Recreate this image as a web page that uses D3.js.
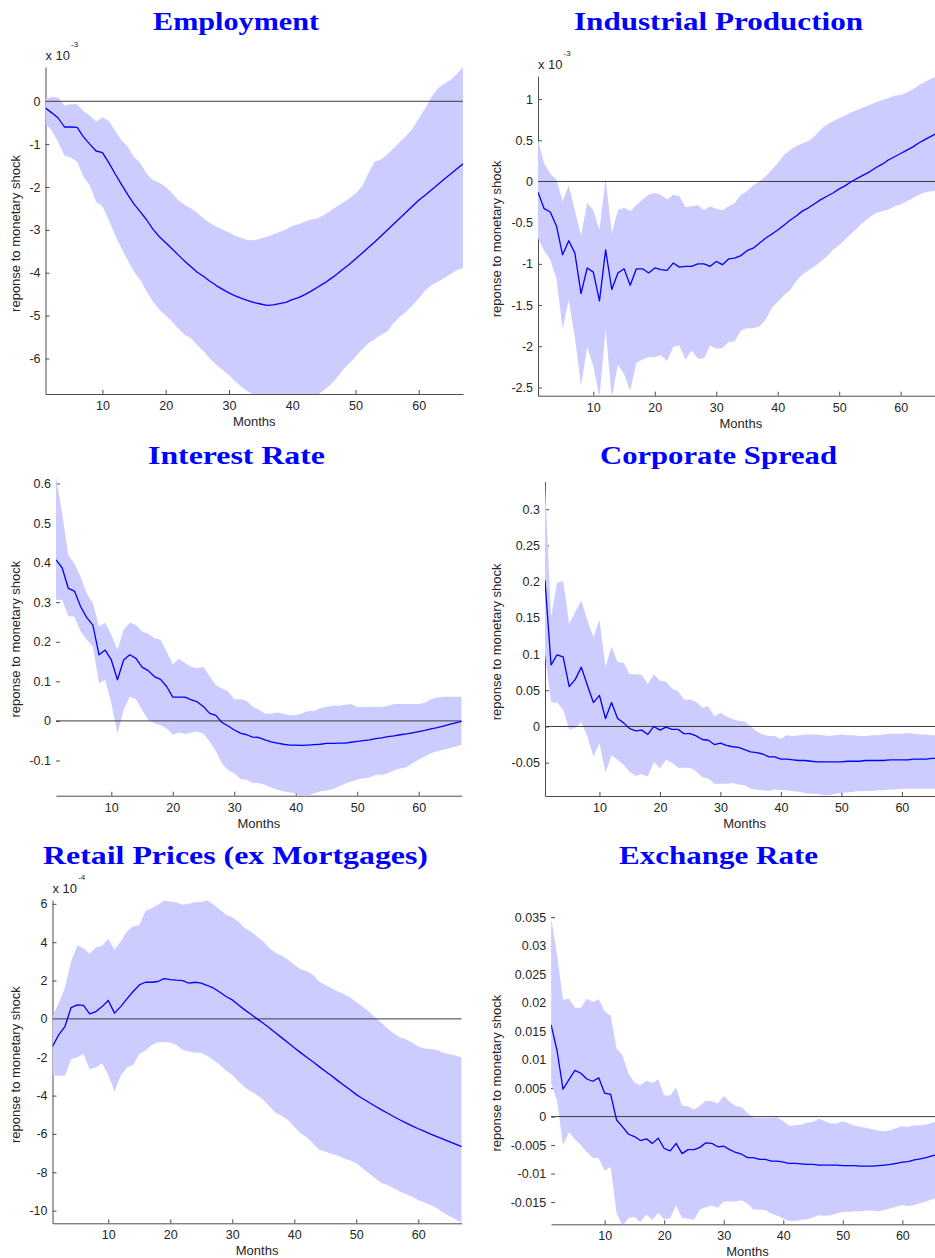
<!DOCTYPE html>
<html>
<head>
<meta charset="utf-8">
<script src="https://cdn.jsdelivr.net/npm/d3@7"></script>
<style>
    body { margin: 0; background: #ffffff; }
    svg { display: block; }
</style>
</head>
<body>
<svg id="Chart" width="935" height="1258"></svg>
<script>
    // Horizon of the impulse responses, in months
    let months = d3.range(1, 68);
    let monthTicks = [10, 20, 30, 40, 50, 60];

    // Employment, in units of 1e-3
    let employmentMid = [-0.16, -0.27, -0.39, -0.6, -0.6, -0.61, -0.83, -1.0, -1.16, -1.2,
        -1.43, -1.69, -1.94, -2.18, -2.4, -2.58, -2.77, -2.99, -3.16, -3.3,
        -3.44, -3.59, -3.73, -3.86, -3.99, -4.09, -4.2, -4.3, -4.39, -4.47,
        -4.54, -4.6, -4.65, -4.7, -4.73, -4.76, -4.75, -4.72, -4.69, -4.63,
        -4.58, -4.51, -4.43, -4.34, -4.25, -4.15, -4.04, -3.92, -3.81, -3.68,
        -3.55, -3.42, -3.29, -3.15, -3.01, -2.87, -2.73, -2.59, -2.45, -2.31,
        -2.19, -2.07, -1.95, -1.82, -1.7, -1.58, -1.46]
    let employmentHigh = [0.06, 0.1, 0.09, -0.1, -0.07, -0.07, -0.23, -0.33, -0.48, -0.37,
        -0.46, -0.68, -0.91, -1.06, -1.3, -1.45, -1.69, -1.84, -1.9, -2.0,
        -2.14, -2.31, -2.42, -2.5, -2.6, -2.74, -2.84, -2.93, -2.99, -3.06,
        -3.14, -3.19, -3.24, -3.24, -3.2, -3.16, -3.11, -3.05, -2.99, -2.91,
        -2.87, -2.81, -2.76, -2.73, -2.66, -2.56, -2.46, -2.37, -2.27, -2.15,
        -2.0, -1.69, -1.41, -1.36, -1.24, -1.1, -0.95, -0.81, -0.64, -0.4,
        -0.17, 0.1, 0.3, 0.41, 0.49, 0.63, 0.8]
    let employmentLow = [-0.52, -0.69, -0.95, -1.27, -1.31, -1.41, -1.76, -1.96, -2.35, -2.45,
        -2.77, -3.12, -3.43, -3.71, -3.98, -4.17, -4.44, -4.68, -4.86, -4.99,
        -5.14, -5.3, -5.45, -5.53, -5.69, -5.84, -6.0, -6.15, -6.27, -6.39,
        -6.54, -6.66, -6.78, -6.85, -6.88, -6.9, -6.92, -6.92, -6.9, -6.88,
        -6.87, -6.86, -6.86, -6.85, -6.74, -6.62, -6.46, -6.27, -6.12, -5.96,
        -5.8, -5.65, -5.56, -5.45, -5.38, -5.18, -5.03, -4.91, -4.76, -4.6,
        -4.42, -4.29, -4.21, -4.13, -4.03, -3.94, -3.89]
    let employmentTicks = [-6, -5, -4, -3, -2, -1, 0]

    // Industrial production, in units of 1e-3
    let industrialMid = [-0.13, -0.33, -0.37, -0.54, -0.89, -0.72, -0.87, -1.36, -1.05, -1.1,
        -1.45, -0.83, -1.31, -1.11, -1.06, -1.26, -1.06, -1.06, -1.11, -1.05,
        -1.07, -1.08, -0.99, -1.04, -1.03, -1.03, -1.0, -1.0, -1.03, -0.97,
        -1.01, -0.94, -0.93, -0.9, -0.84, -0.81, -0.75, -0.69, -0.64, -0.59,
        -0.53, -0.47, -0.42, -0.36, -0.32, -0.27, -0.22, -0.18, -0.14, -0.09,
        -0.05, 0.0, 0.04, 0.08, 0.12, 0.17, 0.21, 0.26, 0.3, 0.34,
        0.38, 0.42, 0.47, 0.51, 0.55, 0.59, 0.62]
    let industrialHigh = [0.51, 0.22, 0.09, 0.02, -0.24, -0.05, -0.35, -0.66, -0.26, -0.35,
        -0.59, 0.04, -0.63, -0.35, -0.32, -0.36, -0.29, -0.22, -0.16, -0.14,
        -0.16, -0.22, -0.16, -0.18, -0.31, -0.3, -0.29, -0.35, -0.3, -0.33,
        -0.35, -0.3, -0.26, -0.16, -0.12, -0.05, 0.0, 0.06, 0.14, 0.22,
        0.32, 0.38, 0.43, 0.46, 0.49, 0.55, 0.63, 0.69, 0.73, 0.77,
        0.8, 0.84, 0.87, 0.9, 0.93, 0.96, 0.99, 1.01, 1.04, 1.05,
        1.08, 1.12, 1.17, 1.21, 1.25, 1.28, 1.31]
    let industrialLow = [-0.69, -0.84, -0.95, -1.18, -1.79, -1.44, -1.89, -2.48, -2.01, -2.24,
        -2.62, -1.79, -2.62, -2.22, -2.34, -2.54, -2.2, -2.16, -2.13, -2.13,
        -2.11, -2.18, -2.01, -1.99, -2.16, -2.05, -2.15, -2.15, -1.99, -2.03,
        -2.02, -1.95, -1.94, -1.81, -1.78, -1.78, -1.76, -1.68, -1.54, -1.46,
        -1.38, -1.32, -1.21, -1.13, -1.08, -1.03, -0.97, -0.91, -0.83, -0.77,
        -0.7, -0.63, -0.56, -0.49, -0.43, -0.38, -0.36, -0.34, -0.3, -0.28,
        -0.24, -0.2, -0.16, -0.13, -0.12, -0.11, -0.1]
    let industrialTicks = [-2.5, -2, -1.5, -1, -0.5, 0, 0.5, 1]

    // Interest rate
    let interestMid = [0.407, 0.387, 0.335, 0.328, 0.289, 0.261, 0.242, 0.167, 0.179, 0.154,
        0.104, 0.154, 0.167, 0.158, 0.136, 0.127, 0.112, 0.105, 0.087, 0.06,
        0.06, 0.06, 0.053, 0.048, 0.036, 0.019, 0.014, -0.004, -0.013, -0.023,
        -0.031, -0.035, -0.041, -0.042, -0.048, -0.053, -0.056, -0.059, -0.061, -0.061,
        -0.062, -0.061, -0.06, -0.059, -0.057, -0.057, -0.056, -0.056, -0.054, -0.052,
        -0.05, -0.048, -0.045, -0.043, -0.04, -0.038, -0.035, -0.033, -0.03, -0.027,
        -0.024, -0.02, -0.017, -0.013, -0.009, -0.005, -0.001]
    let interestHigh = [0.617, 0.524, 0.419, 0.398, 0.364, 0.322, 0.297, 0.238, 0.248, 0.217,
        0.179, 0.23, 0.248, 0.242, 0.226, 0.22, 0.209, 0.205, 0.175, 0.143,
        0.157, 0.146, 0.137, 0.133, 0.137, 0.112, 0.091, 0.082, 0.074, 0.055,
        0.055, 0.051, 0.036, 0.028, 0.019, 0.018, 0.021, 0.018, 0.014, 0.014,
        0.019, 0.025, 0.025, 0.032, 0.036, 0.038, 0.038, 0.04, 0.043, 0.035,
        0.035, 0.036, 0.036, 0.035, 0.038, 0.043, 0.043, 0.043, 0.043, 0.043,
        0.046, 0.055, 0.059, 0.061, 0.061, 0.061, 0.061]
    let interestLow = [0.306, 0.306, 0.265, 0.263, 0.226, 0.205, 0.188, 0.095, 0.104, 0.045,
        -0.033, 0.028, 0.061, 0.055, 0.028, 0.003, -0.006, -0.011, -0.019, -0.035,
        -0.029, -0.033, -0.029, -0.027, -0.033, -0.052, -0.077, -0.107, -0.124, -0.132,
        -0.147, -0.149, -0.157, -0.157, -0.162, -0.168, -0.174, -0.178, -0.181, -0.183,
        -0.19, -0.189, -0.183, -0.178, -0.176, -0.173, -0.166, -0.159, -0.153, -0.149,
        -0.145, -0.143, -0.136, -0.136, -0.132, -0.125, -0.12, -0.117, -0.107, -0.098,
        -0.09, -0.082, -0.077, -0.073, -0.069, -0.065, -0.061]
    let interestTicks = [-0.1, 0, 0.1, 0.2, 0.3, 0.4, 0.5, 0.6]

    // Corporate spread
    let corporateMid = [0.202, 0.085, 0.099, 0.096, 0.055, 0.065, 0.082, 0.057, 0.033, 0.043,
        0.011, 0.033, 0.011, 0.005, -0.003, -0.006, -0.005, -0.011, 0.0, -0.005,
        -0.001, -0.004, -0.004, -0.01, -0.01, -0.013, -0.018, -0.019, -0.025, -0.023,
        -0.026, -0.028, -0.029, -0.032, -0.035, -0.036, -0.038, -0.042, -0.042, -0.045,
        -0.045, -0.046, -0.047, -0.047, -0.048, -0.049, -0.049, -0.049, -0.049, -0.049,
        -0.048, -0.048, -0.048, -0.047, -0.047, -0.047, -0.047, -0.046, -0.046, -0.046,
        -0.046, -0.045, -0.045, -0.045, -0.044, -0.044, -0.044]
    let corporateHigh = [0.335, 0.151, 0.198, 0.201, 0.142, 0.158, 0.174, 0.147, 0.124, 0.147,
        0.082, 0.11, 0.089, 0.088, 0.072, 0.072, 0.071, 0.059, 0.072, 0.063,
        0.062, 0.052, 0.049, 0.037, 0.037, 0.034, 0.026, 0.028, 0.014, 0.019,
        0.014, 0.01, 0.008, 0.007, 0.0, -0.007, -0.011, -0.013, -0.013, -0.017,
        -0.012, -0.013, -0.012, -0.011, -0.011, -0.011, -0.012, -0.013, -0.012, -0.011,
        -0.012, -0.012, -0.013, -0.013, -0.012, -0.012, -0.011, -0.01, -0.01, -0.01,
        -0.009, -0.01, -0.011, -0.011, -0.012, -0.012, -0.012]
    let corporateLow = [0.1, 0.033, 0.033, 0.023, -0.004, -0.002, 0.006, -0.014, -0.041, -0.023,
        -0.064, -0.04, -0.046, -0.053, -0.063, -0.068, -0.066, -0.069, -0.049, -0.058,
        -0.046, -0.05, -0.057, -0.057, -0.057, -0.062, -0.07, -0.072, -0.079, -0.079,
        -0.079, -0.078, -0.08, -0.081, -0.086, -0.087, -0.088, -0.089, -0.087, -0.088,
        -0.088, -0.089, -0.09, -0.092, -0.093, -0.093, -0.095, -0.095, -0.093, -0.091,
        -0.091, -0.09, -0.089, -0.089, -0.089, -0.088, -0.088, -0.087, -0.087, -0.086,
        -0.086, -0.086, -0.086, -0.086, -0.086, -0.086, -0.086]
    let corporateTicks = [-0.05, 0, 0.05, 0.1, 0.15, 0.2, 0.25, 0.3]

    // Retail prices (ex mortgages), in units of 1e-4
    let retailMid = [-1.44, -0.83, -0.4, 0.59, 0.73, 0.7, 0.26, 0.38, 0.64, 0.96,
        0.3, 0.64, 1.04, 1.43, 1.77, 1.91, 1.91, 1.95, 2.1, 2.05,
        2.02, 2.0, 1.86, 1.91, 1.86, 1.74, 1.6, 1.39, 1.17, 0.99,
        0.73, 0.47, 0.24, 0.0, -0.23, -0.47, -0.73, -0.99, -1.25, -1.51,
        -1.76, -2.0, -2.24, -2.49, -2.73, -2.97, -3.22, -3.46, -3.7, -3.95,
        -4.15, -4.35, -4.54, -4.73, -4.91, -5.09, -5.26, -5.42, -5.58, -5.73,
        -5.87, -6.01, -6.14, -6.27, -6.4, -6.53, -6.66]
    let retailHigh = [0.12, 0.82, 1.6, 2.99, 3.83, 3.69, 3.39, 3.74, 3.81, 4.17,
        3.6, 4.03, 4.56, 4.82, 4.9, 5.63, 5.77, 5.95, 6.17, 6.12,
        6.07, 5.95, 6.0, 6.1, 6.09, 6.17, 5.95, 5.69, 5.43, 5.3,
        5.08, 4.73, 4.56, 4.3, 4.03, 3.69, 3.43, 3.29, 3.08, 2.82,
        2.59, 2.49, 2.3, 1.95, 1.77, 1.6, 1.43, 1.3, 1.11, 0.87,
        0.64, 0.38, 0.09, -0.19, -0.49, -0.75, -0.96, -1.06, -1.23, -1.44,
        -1.55, -1.57, -1.62, -1.76, -1.83, -1.91, -2.02]
    let retailLow = [-2.92, -2.97, -2.97, -2.1, -2.0, -1.83, -2.63, -2.52, -2.31, -2.92,
        -3.79, -2.97, -2.54, -2.4, -1.83, -1.65, -1.36, -1.22, -1.2, -1.23,
        -1.36, -1.62, -1.7, -1.76, -1.76, -1.93, -2.14, -2.4, -2.7, -2.92,
        -3.27, -3.57, -3.79, -3.97, -4.23, -4.57, -4.89, -5.06, -5.27, -5.62,
        -5.97, -6.17, -6.49, -6.83, -6.92, -7.04, -7.13, -7.27, -7.39, -7.53,
        -7.79, -8.05, -8.31, -8.54, -8.66, -8.83, -9.0, -9.13, -9.27, -9.44,
        -9.58, -9.7, -9.88, -10.1, -10.28, -10.45, -10.63]
    let retailTicks = [-10, -8, -6, -4, -2, 0, 2, 4, 6]

    // Exchange rate
    let exchangeMid = [0.0161, 0.0116, 0.0048, 0.0065, 0.0081, 0.0076, 0.0066, 0.0062, 0.0068, 0.0041,
        0.0039, -0.0006, -0.0018, -0.0031, -0.0035, -0.0042, -0.0039, -0.0047, -0.0038, -0.0056,
        -0.006, -0.0047, -0.0065, -0.0058, -0.0058, -0.0054, -0.0046, -0.0047, -0.0053, -0.0052,
        -0.0058, -0.0063, -0.0066, -0.0072, -0.0072, -0.0075, -0.0075, -0.0078, -0.0078, -0.008,
        -0.0082, -0.0082, -0.0083, -0.0084, -0.0084, -0.0085, -0.0085, -0.0085, -0.0085, -0.0086,
        -0.0086, -0.0086, -0.0087, -0.0087, -0.0087, -0.0086, -0.0085, -0.0084, -0.0082, -0.008,
        -0.0079, -0.0076, -0.0074, -0.0072, -0.0069, -0.0066, -0.0063]
    let exchangeHigh = [0.035, 0.0284, 0.0205, 0.0207, 0.0191, 0.0191, 0.0207, 0.0201, 0.0206, 0.0185,
        0.0177, 0.0119, 0.0107, 0.0075, 0.006, 0.0055, 0.0063, 0.0059, 0.0065, 0.0037,
        0.0037, 0.0051, 0.0019, 0.0018, 0.0012, 0.0019, 0.0028, 0.0027, 0.0023, 0.0036,
        0.0026, 0.0018, 0.0017, 0.0006, -0.0002, -0.0002, -0.0002, -0.0002, -0.0001, -0.0008,
        -0.0016, -0.0015, -0.0014, -0.0011, -0.0009, -0.0004, -0.0008, -0.0012, -0.0012, -0.0008,
        -0.0012, -0.0016, -0.0018, -0.002, -0.0022, -0.0025, -0.0026, -0.0024, -0.002, -0.0017,
        -0.0018, -0.0015, -0.0015, -0.0014, -0.0011, -0.0008, -0.0005]
    let exchangeLow = [0.0058, 0.0028, -0.005, -0.0027, -0.004, -0.005, -0.0062, -0.0072, -0.0073, -0.0095,
        -0.0088, -0.0169, -0.0192, -0.0178, -0.0176, -0.0185, -0.0172, -0.0181, -0.0169, -0.018,
        -0.0178, -0.0156, -0.0178, -0.0179, -0.0181, -0.0163, -0.0159, -0.0156, -0.016, -0.0149,
        -0.0149, -0.0149, -0.0147, -0.0153, -0.0163, -0.0163, -0.0164, -0.017, -0.0174, -0.0179,
        -0.0183, -0.0183, -0.0181, -0.018, -0.0177, -0.0173, -0.0174, -0.0173, -0.017, -0.0167,
        -0.0167, -0.0166, -0.0166, -0.0165, -0.0165, -0.0166, -0.0164, -0.0161, -0.0158, -0.0155,
        -0.0157, -0.0155, -0.0152, -0.0149, -0.0145, -0.0142, -0.0139]
    let exchangeTicks = [-0.015, -0.01, -0.005, 0, 0.005, 0.01, 0.015, 0.02, 0.025, 0.03, 0.035]

    function getPanels() {
        // box = plot area in page pixels, yDomain = visible value range (axis tight)
        // labelX = baseline of the rotated y label, yLine = whether the left axis line shows
        return [
            {id: "emp", title: "Employment", titleX: 236, titleY: 30, titleW: 166, labelX: 19.5, yLine: true,
             box: {left: 45.5, right: 463, top: 67, bottom: 394}, yDomain: [-6.83, 0.8],
             mid: employmentMid, low: employmentLow, high: employmentHigh, ticks: employmentTicks, exponent: "-3"},
            {id: "ip", title: "Industrial Production", titleX: 718.5, titleY: 30, titleW: 289, labelX: 500.5, yLine: true,
             box: {left: 538, right: 943.7, top: 76, bottom: 395.7}, yDomain: [-2.6, 1.28],
             mid: industrialMid, low: industrialLow, high: industrialHigh, ticks: industrialTicks, exponent: "-3"},
            {id: "ir", title: "Interest Rate", titleX: 236.5, titleY: 464, titleW: 177, labelX: 19.5, yLine: false,
             box: {left: 56, right: 461.7, top: 476.7, bottom: 795.7}, yDomain: [-0.189, 0.617],
             mid: interestMid, low: interestLow, high: interestHigh, ticks: interestTicks},
            {id: "cs", title: "Corporate Spread", titleX: 718.5, titleY: 464, titleW: 237, labelX: 500.5, yLine: true,
             box: {left: 545, right: 944.2, top: 481.7, bottom: 796}, yDomain: [-0.096, 0.338],
             mid: corporateMid, low: corporateLow, high: corporateHigh, ticks: corporateTicks},
            {id: "rp", title: "Retail Prices (ex Mortgages)", titleX: 235.5, titleY: 864, titleW: 385, labelX: 19.5, yLine: true,
             box: {left: 52.5, right: 461.7, top: 900, bottom: 1223.3}, yDomain: [-10.66, 6.2],
             mid: retailMid, low: retailLow, high: retailHigh, ticks: retailTicks, exponent: "-4"},
            {id: "xr", title: "Exchange Rate", titleX: 718.5, titleY: 864, titleW: 199, labelX: 500.5, yLine: false,
             box: {left: 551.1, right: 944, top: 916, bottom: 1224.3}, yDomain: [-0.0189, 0.0352],
             mid: exchangeMid, low: exchangeLow, high: exchangeHigh, ticks: exchangeTicks}
        ]
    }

    function drawPanel(container, panel) {
        let {box} = panel
        let xScale = d3.scaleLinear().domain([1, 67]).range([box.left, box.right])
        let yScale = d3.scaleLinear().domain(panel.yDomain).range([box.bottom, box.top])
        let font = "'Liberation Sans', Arial, sans-serif"

        // axes go under the data (matlab default layer)
        let axisX = d3.axisBottom(xScale)
            .tickValues(monthTicks)
            .tickSizeInner(-4)
            .tickSizeOuter(0)
            .tickPadding(7)
        let gx = container.append("g")
            .attr("transform", `translate(0,${box.bottom})`)
            .call(axisX)

        let axisY = d3.axisLeft(yScale)
            .tickValues(panel.ticks)
            .tickFormat(d => String(d))
            .tickSizeInner(-4)
            .tickSizeOuter(0)
            .tickPadding(5)
        let gy = container.append("g")
            .attr("transform", `translate(${box.left},0)`)
            .call(axisY)

        for (let g of [gx, gy]) {
            g.attr("font-family", font)
                .attr("font-size", 12.5)
            g.select(".domain").attr("stroke", "#4d4d4d")
            g.selectAll(".tick line").attr("stroke", "#4d4d4d")
            g.selectAll(".tick text").attr("fill", "#262626")
        }
        if (!panel.yLine) gy.select(".domain").remove()

        // clip the data to the axes box
        container.append("clipPath")
            .attr("id", "clip-" + panel.id)
            .append("rect")
            .attr("x", box.left)
            .attr("y", box.top)
            .attr("width", box.right - box.left)
            .attr("height", box.bottom - box.top)

        let body = container.append("g").attr("clip-path", `url(#clip-${panel.id})`)

        let rows = months.map((m, i) => ({m, mid: panel.mid[i], low: panel.low[i], high: panel.high[i]}))

        let band = d3.area()
            .x(d => xScale(d.m))
            .y0(d => yScale(d.low))
            .y1(d => yScale(d.high))
        body.append("path")
            .datum(rows)
            .attr("d", band)
            .attr("fill", "#ccccff")

        body.append("line")
            .attr("x1", xScale(1))
            .attr("x2", xScale(67))
            .attr("y1", yScale(0))
            .attr("y2", yScale(0))
            .attr("stroke", "#3c3c3c")
            .attr("stroke-width", 1)

        let line = d3.line()
            .x(d => xScale(d.m))
            .y(d => yScale(d.mid))
        body.append("path")
            .datum(rows)
            .attr("d", line)
            .attr("fill", "none")
            .attr("stroke", "#0000ff")
            .attr("stroke-width", 1.3)
            .attr("stroke-linejoin", "round")

        container.append("text")
            .attr("x", (box.left + box.right) / 2)
            .attr("y", box.bottom + 32)
            .attr("text-anchor", "middle")
            .attr("font-family", font)
            .attr("font-size", 13)
            .attr("fill", "#262626")
            .text("Months")

        let labelY = (box.top + box.bottom) / 2 + 3
        container.append("text")
            .attr("transform", `translate(${panel.labelX},${labelY}) rotate(-90)`)
            .attr("text-anchor", "middle")
            .attr("font-family", font)
            .attr("font-size", 13)
            .attr("fill", "#262626")
            .text("reponse to monetary shock")

        if (panel.exponent) {
            let expo = container.append("text")
                .attr("x", box.left)
                .attr("y", box.top - 7)
                .attr("font-family", font)
                .attr("font-size", 13)
                .attr("fill", "#262626")
            expo.append("tspan").text("x 10")
            expo.append("tspan")
                .attr("dy", -13)
                .attr("dx", 1)
                .attr("font-size", 8)
                .text(panel.exponent)
        }

        container.append("text")
            .attr("x", panel.titleX)
            .attr("y", panel.titleY)
            .attr("text-anchor", "middle")
            .attr("font-family", "'Liberation Serif', 'DejaVu Serif', serif")
            .attr("font-weight", "bold")
            .attr("font-size", 26)
            .attr("textLength", panel.titleW)
            .attr("lengthAdjust", "spacingAndGlyphs")
            .attr("fill", "#0000ff")
            .text(panel.title)
    }

    function showData() {
        let container = d3.select("#Chart")
        getPanels().forEach(p => drawPanel(container, p))
    }

    showData();
</script>
</body>
</html>
